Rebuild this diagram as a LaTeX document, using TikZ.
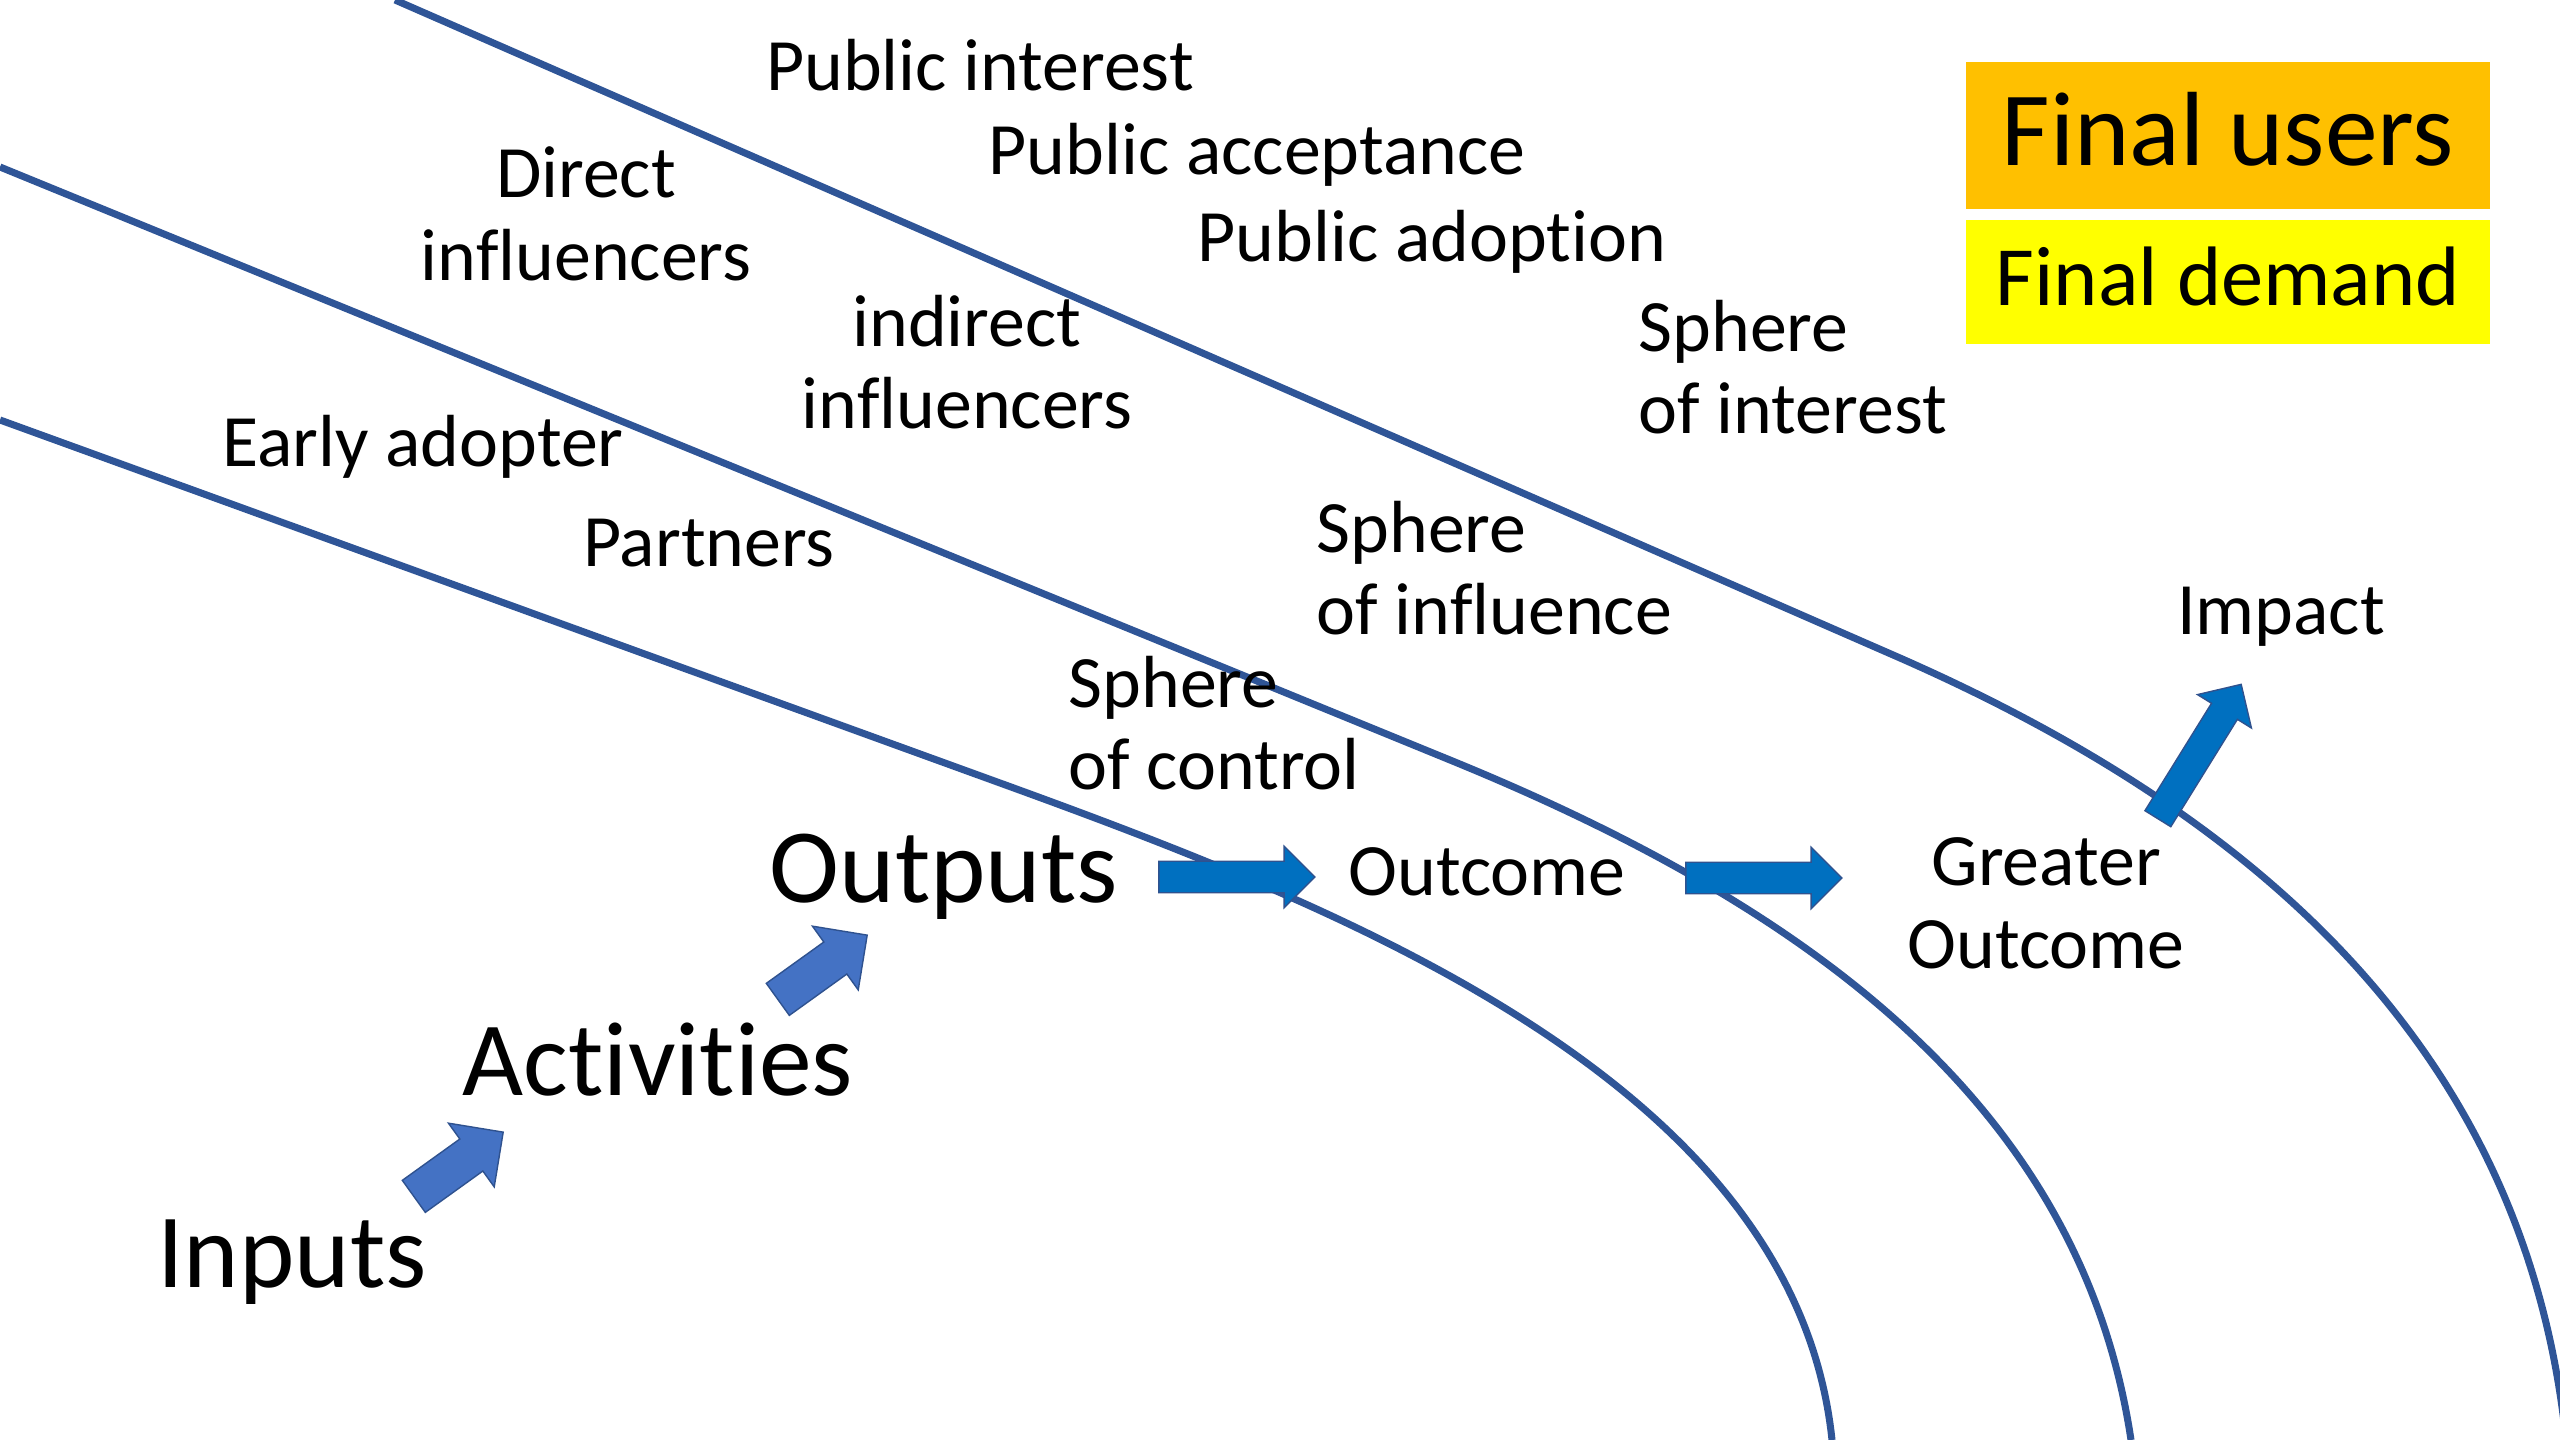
\documentclass[tikz,border=0pt]{standalone}
\usepackage{fontspec}
\setmainfont{Carlito}[Ligatures=NoCommon]
\usetikzlibrary{shapes.arrows}

\definecolor{sphereblue}{HTML}{2F5597}
\definecolor{arrowedge}{HTML}{2F528F}
\definecolor{stepblue}{HTML}{4472C4}
\definecolor{flowblue}{HTML}{0070C0}
\definecolor{usersorange}{HTML}{FFC000}
\definecolor{demandyellow}{HTML}{FFFF00}

\begin{document}
\begin{tikzpicture}[
        x=0.01cm, y=-0.01cm,
        lbl/.style={font=\fontsize{21}{23.5}\selectfont, inner sep=0pt},
        bigl/.style={font=\fontsize{30}{33}\selectfont, inner sep=0pt},
        sphere/.style={draw=sphereblue, line width=2pt},
        fat/.style={shape=single arrow, draw=arrowedge, line width=0.4pt,
            inner sep=0pt, single arrow tip angle=90},
        steparrow/.style={fat, fill=stepblue, inner ysep=0.19cm,
            single arrow head extend=0.195cm, minimum height=1.10cm},
        flowarrow/.style={fat, fill=flowblue, inner ysep=0.15cm,
            single arrow head extend=0.15cm, minimum height=1.56cm}
    ]
        \useasboundingbox (0,0) rectangle (2560,1440);

        % the three spheres
        \begin{scope}
            \clip (0,0) rectangle (2560,1440);
            \draw[sphere] (0,420) -- (1000,783)
                .. controls (1350,910) and (1795,1085) .. (1832,1440);
            \draw[sphere] (0,167) -- (1450,760)
                .. controls (1800,903) and (2080,1100) .. (2131,1440);
            \draw[sphere] (395,0) -- (1900,658)
                .. controls (2250,812) and (2525,1045) .. (2566,1440);
        \end{scope}

        % final users / final demand
        \node[fill=usersorange, minimum width=5.24cm, minimum height=1.47cm,
            font=\fontsize{30}{33}\selectfont] (users) at (2228,135.5) {\raisebox{0.13cm}{Final users}};
        \node[fill=demandyellow, minimum width=5.24cm, minimum height=1.24cm,
            font=\fontsize{24}{27}\selectfont] (demand) at (2228,282) {\raisebox{0.12cm}{Final demand}};

        % labels of the spheres
        \node[lbl] (pint) at (980,65) {Public interest};
        \node[lbl] (pacc) at (1257,155) {Public acceptance};
        \node[lbl] (padop) at (1432,242) {Public adoption};
        \node[lbl, align=left, anchor=west] (sint) at (1638,367) {Sphere\\of interest};
        \node[lbl, align=center] (dinf) at (586,214) {Direct\\influencers};
        \node[lbl, align=center] (iinf) at (967,362) {indirect\\influencers};
        \node[lbl] (early) at (423,447) {Early adopter};
        \node[lbl] (partn) at (709,543) {Partners};
        \node[lbl, align=left, anchor=west] (sinfl) at (1316,568) {Sphere\\of influence};
        \node[lbl, align=left, anchor=west] (sctrl) at (1068,723) {Sphere\\of control};

        % results chain
        \node[bigl] (inputs) at (292,1262) {Inputs};
        \node[bigl] (activ) at (658,1060) {Activities};
        \node[bigl] (outputs) at (944,877) {Outputs};
        \node[lbl] (outcome) at (1487,872) {Outcome};
        \node[lbl, align=center] (greater) at (2046,903) {Greater\\Outcome};
        \node[lbl] (impact) at (2281,617) {Impact};

        \node[steparrow, rotate=35.7] (inact) at (450.5,1170) {};
        \node[steparrow, rotate=35.7] (actout) at (814.5,973) {};
        \node[flowarrow] (outoc) at (1229,877) {};
        \node[flowarrow] (ocgr) at (1756,878) {};
        \node[flowarrow, minimum height=1.58cm, inner ysep=0.145cm,
            single arrow head extend=0.165cm, rotate=58.2] (grimp) at (2195.5,758) {};
\end{tikzpicture}
\end{document}
